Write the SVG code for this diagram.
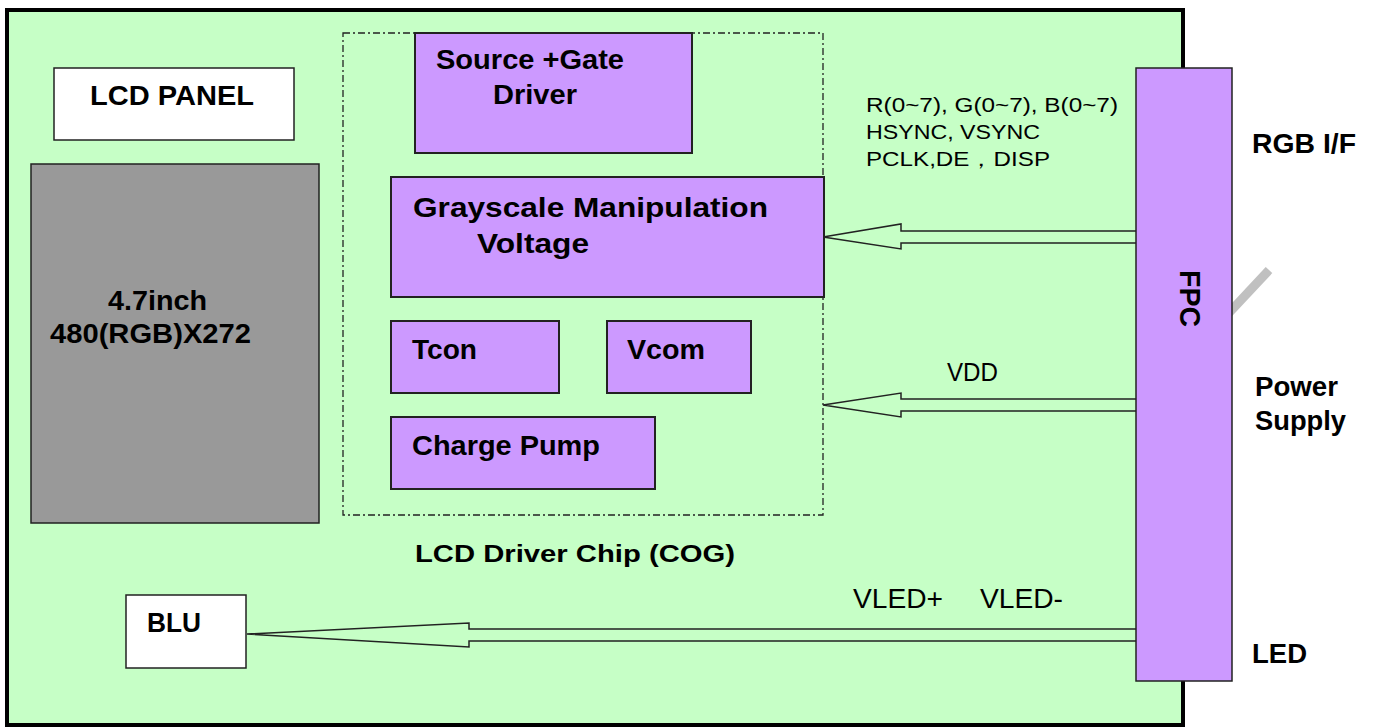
<svg xmlns="http://www.w3.org/2000/svg" width="1376" height="728" viewBox="0 0 1376 728">
<style>
.b{font-family:"Liberation Sans",Arial,sans-serif;font-weight:bold;fill:#000}
.n{font-family:"Liberation Sans",Arial,sans-serif;fill:#000}
.blk{fill:#CC99FF;stroke:#222;stroke-width:2}
.arr{fill:#C6FFC6;stroke:#222;stroke-width:1.5;stroke-linejoin:miter}
</style>
<rect width="1376" height="728" fill="#fff"/>
<g id="board"><rect x="7" y="10" width="1176" height="715" fill="#C6FFC6" stroke="#000" stroke-width="4"/></g>
<line x1="1212" y1="331" x2="1269" y2="270" stroke="#C0C0C0" stroke-width="9"/>
<g id="connectors">
<polygon class="arr" points="1137,231 901,231 901,224 823,237 901,249 901,243 1137,243"/>
<polygon class="arr" points="1137,399 901,399 901,393 823,405 901,417 901,411 1137,411"/>
<polygon class="arr" points="1137,629 469,629 469,623 247,634 469,647 469,641 1137,641"/>
</g>
<g id="driver-chip">
<rect x="343" y="33" width="480" height="482" fill="none" stroke="#222" stroke-width="1.3" stroke-dasharray="7 3 2 3"/>
<text class="b" x="415" y="562" font-size="23" textLength="320" lengthAdjust="spacingAndGlyphs">LCD Driver Chip (COG)</text>
</g>
<g id="lcd-panel">
<rect x="54" y="68" width="240" height="72" fill="#fff" stroke="#222" stroke-width="1.5"/>
<text class="b" x="90" y="105" font-size="28" textLength="164" lengthAdjust="spacingAndGlyphs">LCD PANEL</text>
</g>
<g id="glass">
<rect x="31" y="164" width="288" height="359" fill="#999999" stroke="#222" stroke-width="1.5"/>
<text class="b" x="108" y="310" font-size="28" textLength="99" lengthAdjust="spacingAndGlyphs">4.7inch</text>
<text class="b" x="50" y="343" font-size="28" textLength="201" lengthAdjust="spacingAndGlyphs">480(RGB)X272</text>
</g>
<g id="source-gate">
<rect class="blk" x="415" y="33" width="277" height="120"/>
<text class="b" x="436" y="69" font-size="28" textLength="188" lengthAdjust="spacingAndGlyphs">Source +Gate</text>
<text class="b" x="493" y="104" font-size="28" textLength="84" lengthAdjust="spacingAndGlyphs">Driver</text>
</g>
<g id="grayscale">
<rect class="blk" x="391" y="177" width="433" height="120" stroke-width="3"/>
<text class="b" x="413" y="217" font-size="28" textLength="355" lengthAdjust="spacingAndGlyphs">Grayscale Manipulation</text>
<text class="b" x="477" y="253" font-size="28" textLength="112" lengthAdjust="spacingAndGlyphs">Voltage</text>
</g>
<g id="tcon">
<rect class="blk" x="391" y="321" width="168" height="72"/>
<text class="b" x="412" y="359" font-size="28" textLength="65" lengthAdjust="spacingAndGlyphs">Tcon</text>
</g>
<g id="vcom">
<rect class="blk" x="607" y="321" width="144" height="72"/>
<text class="b" x="627" y="359" font-size="28" textLength="78" lengthAdjust="spacingAndGlyphs">Vcom</text>
</g>
<g id="charge-pump">
<rect class="blk" x="391" y="417" width="264" height="72"/>
<text class="b" x="412" y="455" font-size="28" textLength="188" lengthAdjust="spacingAndGlyphs">Charge Pump</text>
</g>
<g id="blu">
<rect x="126" y="595" width="120" height="73" fill="#fff" stroke="#222" stroke-width="1.5"/>
<text class="b" x="147" y="632" font-size="28" textLength="54" lengthAdjust="spacingAndGlyphs">BLU</text>
</g>
<g id="fpc">
<rect x="1136" y="68" width="96" height="613" fill="#CC99FF" stroke="#222" stroke-width="1.5"/>
<text class="b" font-size="29" transform="translate(1180,270) rotate(90)" textLength="57" lengthAdjust="spacingAndGlyphs">FPC</text>
</g>
<g id="labels">
<text class="n" x="866" y="112" font-size="20" textLength="252" lengthAdjust="spacingAndGlyphs">R(0~7), G(0~7), B(0~7)</text>
<text class="n" x="866" y="139" font-size="20" textLength="174" lengthAdjust="spacingAndGlyphs">HSYNC, VSYNC</text>
<text class="n" x="866" y="166" font-size="20" textLength="184" lengthAdjust="spacingAndGlyphs">PCLK,DE，DISP</text>
<text class="n" x="947" y="381" font-size="25" textLength="51" lengthAdjust="spacingAndGlyphs">VDD</text>
<text class="n" x="853" y="608" font-size="28" textLength="90" lengthAdjust="spacingAndGlyphs">VLED+</text>
<text class="n" x="980" y="608" font-size="28" textLength="83" lengthAdjust="spacingAndGlyphs">VLED-</text>
<text class="b" x="1252" y="153" font-size="28" textLength="104" lengthAdjust="spacingAndGlyphs">RGB I/F</text>
<text class="b" x="1255" y="396" font-size="27" textLength="83" lengthAdjust="spacingAndGlyphs">Power</text>
<text class="b" x="1255" y="430" font-size="27" textLength="91" lengthAdjust="spacingAndGlyphs">Supply</text>
<text class="b" x="1252" y="663" font-size="28" textLength="55" lengthAdjust="spacingAndGlyphs">LED</text>
</g>
</svg>
